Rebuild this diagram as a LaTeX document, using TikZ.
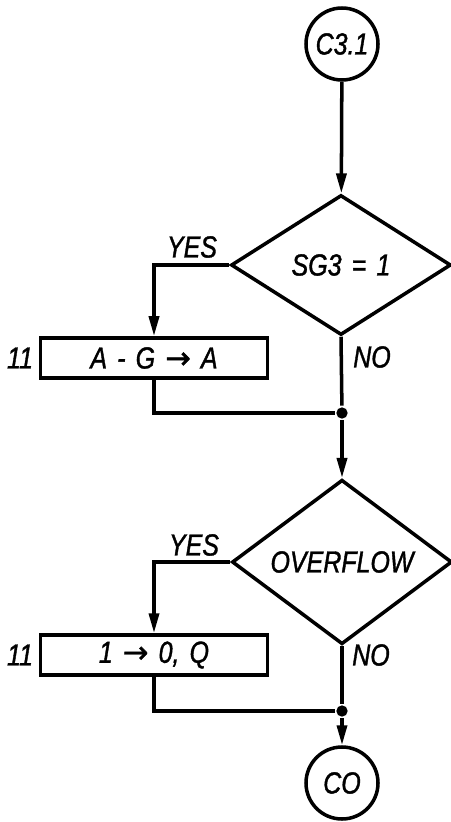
\documentclass[tikz,border=0pt]{standalone}
\usepackage{fontspec}
\setmainfont{Liberation Sans}[FakeStretch=0.82, FakeBold=1.2]
\newfontfamily\arrowfont{DejaVu Sans}[FakeBold=1.5]
\usepackage{tikz}
\usetikzlibrary{
  arrows.meta,     % Triangle arrow tips
  shapes.geometric,% diamond test boxes
  positioning
}

\tikzset{
  term/.style={draw, circle, minimum size=21.6mm, inner sep=0pt},
  test/.style={draw, diamond, minimum width=66mm, minimum height=42mm, inner sep=0pt},
  op/.style={draw, rectangle, minimum width=68mm, minimum height=12mm, inner sep=0pt},
  tag/.style={inner sep=0pt},
  joint/.style={fill, circle, minimum size=3.4mm, inner sep=0pt}
}
\newcommand{\tto}{{\arrowfont\upshape →}}

\begin{document}
\begin{tikzpicture}[>={Triangle[length=6mm, width=3mm]}, x=0.3mm, y=-0.3mm,
  line width=3pt, font=\fontsize{26}{28}\selectfont\itshape]

  \useasboundingbox (0,0) rectangle (451,822);

  % =============== first test: SG3 = 1 ===============
  \node[term] (start) at (342,44) {C3.1};
  \node[test] (sgtest) at (341,265) {SG3\,\,=\,\,1};
  \node[tag] at (192,247) {YES};
  \node[tag] at (372,357) {NO};

  \node[op] (subtr) at (154,358) {A\,\,-\,\,G\,\,\tto\,\,A};
  \node[tag] at (20,358) {11};
  \node[joint] (joinA) at (342,413) {};

  \draw[->] (start) -- (sgtest);
  \draw[->] (sgtest.west) -| (subtr.north);
  \draw (subtr.south) |- (joinA);
  \draw (sgtest.south) -- (joinA);

  % =============== second test: OVERFLOW ===============
  \node[test] (ovtest) at (342,562) {OVERFLOW};
  \node[tag] at (194,545) {YES};
  \node[tag] at (371,655) {NO};

  \node[op] (setq) at (154,655) {1\,\,\tto\,\,0,\,\,Q};
  \node[tag] at (20,655) {11};
  \node[joint] (joinB) at (342,711) {};

  \draw[->] (joinA) -- (ovtest);
  \draw[->] (ovtest.west) -| (setq.north);
  \draw (setq.south) |- (joinB);
  \draw (ovtest.south) -- (joinB);

  % =============== exit ===============
  \node[term] (finish) at (342,783) {CO};
  \draw[->] (joinB) -- (finish);

\end{tikzpicture}
\end{document}
